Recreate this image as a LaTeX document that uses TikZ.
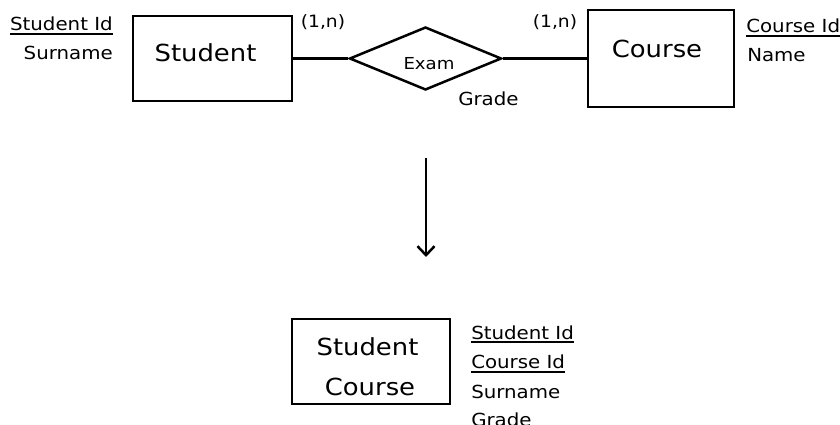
\documentclass[tikz,border=0pt]{standalone}
\usepackage{fontspec}
\setmainfont{DejaVu Sans}[FakeStretch=1.1]
\usetikzlibrary{shapes.geometric,arrows.meta}
\newcommand\keyattr[1]{\setbox0\hbox{#1}\rlap{\rule[-4pt]{\wd0}{1.8pt}}\box0}
\begin{document}
\begin{tikzpicture}[x=1pt,y=-1pt,line width=2.5pt,
  entity/.style={draw,rectangle,inner sep=0pt},
  rel/.style={draw,diamond,inner sep=0pt,minimum width=152pt,minimum height=63pt},
  attr/.style={inner sep=0pt,font=\fontsize{18}{20}\selectfont},
  card/.style={inner sep=0pt,font=\fontsize{17}{19}\selectfont},
  big/.style={inner sep=0pt,font=\fontsize{23.5}{26}\selectfont},
  arr/.style={-{Straight Barb[length=9pt,width=17pt]}}]
\useasboundingbox (0,0) rectangle (840,425);

% top ER diagram
\node[entity,minimum width=159pt,minimum height=85pt] (student) at (212.5,58.5) {};
\node[big,anchor=base] (studentname) at (205.5,62) {Student};
\node[rel] (exam) at (425.5,58.5) {};
\node[card,font=\fontsize{16.5}{18}\selectfont,anchor=base] (examname) at (429,70) {Exam};
\node[entity,minimum width=146pt,minimum height=97pt] (course) at (661,58.5) {};
\node[big,anchor=base] (coursename) at (657,58) {Course};
\draw (student.east) -- (exam.west);
\draw (exam.east) -- (course.west);

\node[card,anchor=base] (card1) at (323,28) {(1,n)};
\node[card,anchor=base] (card2) at (555,28) {(1,n)};
\node[attr,anchor=base west] (grade) at (457,106) {Grade};

\node[attr,anchor=base east] (sid) at (114,31) {\keyattr{Student Id}};
\node[attr,anchor=base east] (ssur) at (114,60) {Surname};
\node[attr,anchor=base west] (cid) at (745,33) {\keyattr{Course Id}};
\node[attr,anchor=base west] (cname) at (746,62) {Name};

% transformation arrow
\coordinate (arrtop) at (426,158);
\coordinate (arrbot) at (426,257);
\draw[arr] (arrtop) -- (arrbot);

% resulting relation
\node[entity,minimum width=158pt,minimum height=85pt] (sc) at (371,361.5) {};
\node[big,anchor=base] (scname1) at (367.5,355) {Student};
\node[big,anchor=base] (scname2) at (370,395) {Course};
\node[attr,anchor=base west] (a1) at (470,339) {\keyattr{Student Id}};
\node[attr,anchor=base west] (a2) at (470,368.5) {\keyattr{Course Id}};
\node[attr,anchor=base west] (a3) at (470,398) {Surname};
\node[attr,anchor=base west] (a4) at (470,426) {Grade};
\end{tikzpicture}
\end{document}
